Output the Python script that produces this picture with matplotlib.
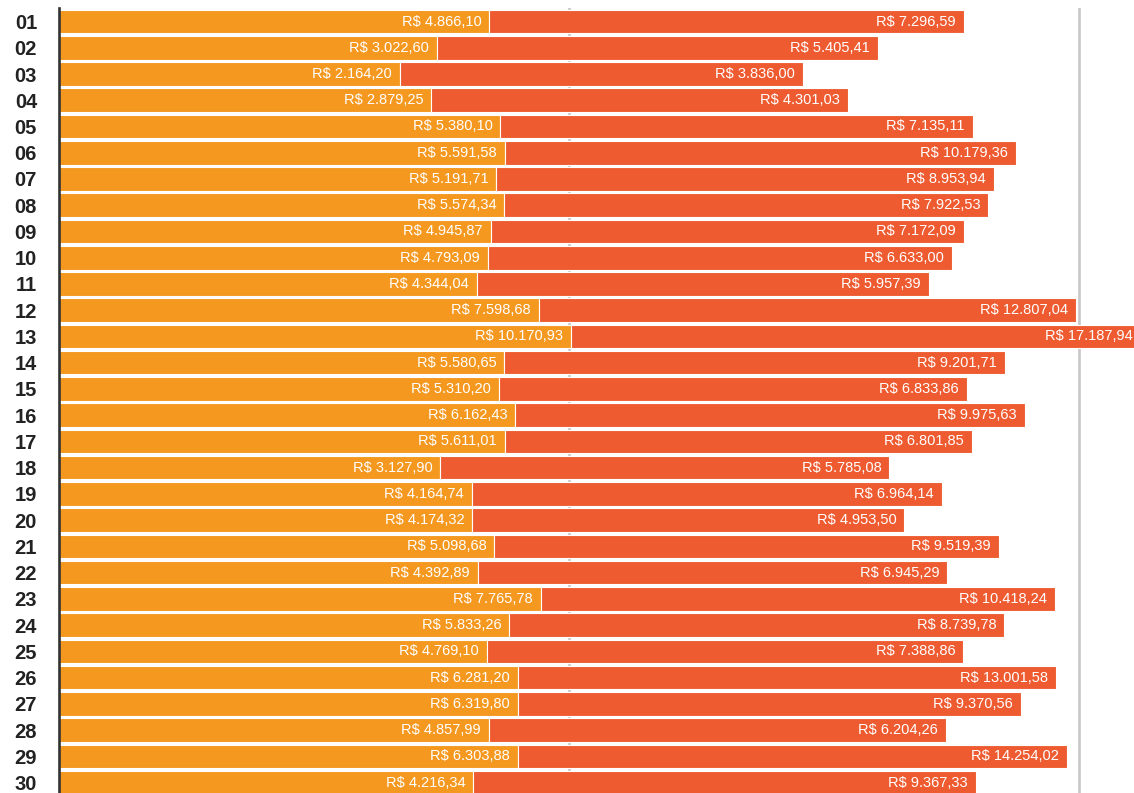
import matplotlib
matplotlib.use("Agg")
import matplotlib.pyplot as plt

plt.rcParams['font.family'] = ['Liberation Sans', 'DejaVu Sans']

days = ["01", "02", "03", "04", "05", "06", "07", "08", "09", "10",
        "11", "12", "13", "14", "15", "16", "17", "18", "19", "20",
        "21", "22", "23", "24", "25", "26", "27", "28", "29", "30"]
first = [4866.10, 3022.60, 2164.20, 2879.25, 5380.10, 5591.58, 5191.71, 5574.34, 4945.87, 4793.09,
         4344.04, 7598.68, 10170.93, 5580.65, 5310.20, 6162.43, 5611.01, 3127.90, 4164.74, 4174.32,
         5098.68, 4392.89, 7765.78, 5833.26, 4769.10, 6281.20, 6319.80, 4857.99, 6303.88, 4216.34]
second = [7296.59, 5405.41, 3836.00, 4301.03, 7135.11, 10179.36, 8953.94, 7922.53, 7172.09, 6633.00,
          5957.39, 12807.04, 17187.94, 9201.71, 6833.86, 9975.63, 6801.85, 5785.08, 6964.14, 4953.50,
          9519.39, 6945.29, 10418.24, 8739.78, 7388.86, 13001.58, 9370.56, 6204.26, 14254.02, 9367.33]

base = 100  # log axis starts here
orange = "#F5981F"
red = "#EE5B30"


def brl(v):
    s = f"{v:,.2f}"
    s = s.replace(",", "X").replace(".", ",").replace("X", ".")
    return "R$ " + s


fig = plt.figure(figsize=(11.34, 7.93), dpi=100)
ax = fig.add_axes([0.0523, -0.0034, 0.9477, 0.9928])
ax.set_xscale("log")

y = list(range(len(days)))
ends = [o * r / base for o, r in zip(first, second)]

ax.barh(y, [o - base for o in first], left=base, height=0.9, color=orange,
        edgecolor="white", linewidth=0.8, zorder=2)
ax.barh(y, [e - o for e, o in zip(ends, first)], left=first, height=0.9, color=red,
        edgecolor="white", linewidth=0.8, zorder=2)

for i in y:
    ax.annotate(brl(first[i]), (first[i], i), xytext=(-8, 0), textcoords="offset pixels",
                ha="right", va="center", color="white", fontsize=10.5, zorder=3)
    ax.annotate(brl(second[i]), (ends[i], i), xytext=(-8, 0), textcoords="offset pixels",
                ha="right", va="center", color="white", fontsize=10.5, zorder=3,
                annotation_clip=False)

ax.set_xlim(base, 10 ** 6.217)
ax.set_ylim(len(days) - 0.5, -0.5)
ax.set_xticks([1e4, 1e6])
ax.set_xticks([], minor=True)
ax.tick_params(axis="x", length=0, labelbottom=False)
ax.grid(axis="x", color="#c8c8c8", linewidth=1.9, zorder=0)
ax.set_axisbelow(True)

ax.set_yticks(y)
ax.set_yticklabels(days, fontsize=14.5, fontweight="bold", color="#222222")
ax.tick_params(axis="y", length=0, pad=16)

for side in ["top", "right", "bottom"]:
    ax.spines[side].set_visible(False)
ax.spines["left"].set_color("#333333")
ax.spines["left"].set_linewidth(1.9)
ax.spines["left"].set_zorder(4)

fig.savefig("out.png", dpi=100)
